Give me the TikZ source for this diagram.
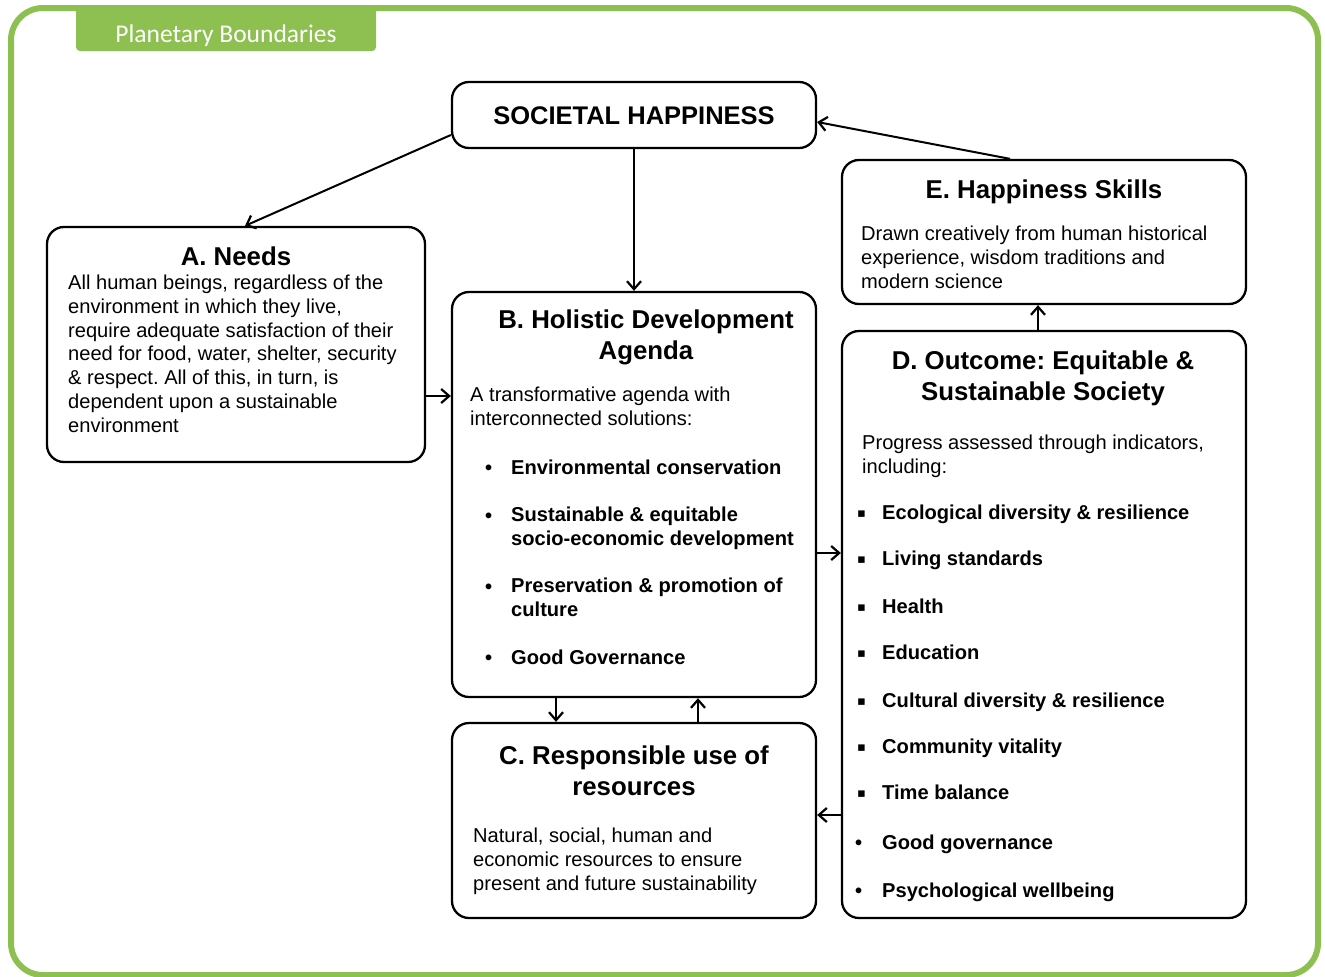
\documentclass[tikz,border=0pt]{standalone}
\usepackage{fontspec}
\setmainfont{Liberation Sans}
\newfontfamily\calfont{Carlito}
\newfontfamily\dvfont{DejaVu Sans}
\usetikzlibrary{arrows.meta,calc}
\definecolor{pbgreen}{RGB}{141,192,80}
\frenchspacing
\tikzset{
  box/.style={draw=black,line width=2.3pt,rounded corners=17pt,inner sep=0pt},
  ttl/.style={font=\fontsize{25.8}{30.5}\selectfont\bfseries,align=center,anchor=base,inner sep=0pt},
  body/.style={font=\fontsize{20.1}{23.7}\selectfont,align=left,anchor=base west,inner sep=0pt},
  bul/.style={font=\fontsize{20.1}{23.3}\selectfont\bfseries,align=left,anchor=base west,inner sep=0pt},
  arr/.style={line width=2pt,-{Straight Barb[length=8pt,width=14pt,line width=2.2pt]}},
}
% #1 name, #2 bullet x, #3 text x, #4 first baseline, #5 last baseline, #6 text
\newcommand{\rbul}[6]{\node[bul] (#1) at (#2,#4) {•};\node[bul] (#1t) at (#3,#5) {#6};}
\newcommand{\sbul}[4]{\node[bul,font=\fontsize{13}{16}\dvfont] (#1) at (#2,#3-2) {▪};\node[bul] (#1t) at (882,#3) {#4};}
\begin{document}
\frenchspacing
\begin{tikzpicture}[x=1pt,y=-1pt]
\useasboundingbox (0,0) rectangle (1325,977);
% outer frame
\draw[pbgreen,line width=6pt,rounded corners=32pt] (11,8) rectangle (1318,975);
\fill[pbgreen,rounded corners=4pt] (76,6) -- (76,51) -- (376,51) -- (376,6) -- cycle;
\node[font=\fontsize{25.5}{30}\calfont,text=white,inner sep=0pt,anchor=base] (pb) at (226,42) {Planetary Boundaries};
% boxes
\node[box,minimum width=364pt,minimum height=66pt] (sh) at (634,115) {};
\node[font=\fontsize{25.5}{30}\selectfont\bfseries,anchor=base,inner sep=0pt] (sht) at (634,124) {SOCIETAL HAPPINESS};
\node[box,minimum width=378pt,minimum height=235pt] (a) at (236,344.5) {};
\node[box,minimum width=364pt,minimum height=405pt] (b) at (634,494.5) {};
\node[box,minimum width=364pt,minimum height=195pt] (c) at (634,820.5) {};
\node[box,minimum width=404pt,minimum height=587pt] (d) at (1044,624.5) {};
\node[box,minimum width=404pt,minimum height=144pt] (e) at (1044,232) {};
% A
\node[ttl] (at) at (236,265) {A. Needs};
\node[body] (ab) at (68,432) {All human beings, regardless of the\\environment in which they live,\\require adequate satisfaction of their\\need for food, water, shelter, security\\\& respect. All of this, in turn, is\\dependent upon a sustainable\\environment};
% B
\node[ttl] (bt) at (646,359) {B. Holistic Development\\Agenda};
\node[body] (bb) at (470,425) {A transformative agenda with\\interconnected solutions:};
\rbul{b1}{485}{511}{474}{474}{Environmental conservation}
\rbul{b2}{485}{511}{522}{545}{Sustainable \& equitable\\socio-economic development}
\rbul{b3}{485}{511}{593}{616}{Preservation \& promotion of\\culture}
\rbul{b4}{485}{511}{664}{664}{Good Governance}
% C
\node[ttl] (ct) at (634,795) {C. Responsible use of\\resources};
\node[body] (cb) at (473,890) {Natural, social, human and\\economic resources to ensure\\present and future sustainability};
% D
\node[ttl] (dt) at (1043,400) {D. Outcome: Equitable \&\\Sustainable Society};
\node[body] (db) at (862,473) {Progress assessed through indicators,\\including:};
\sbul{d1}{857}{519}{Ecological diversity \& resilience}
\sbul{d2}{857}{565}{Living standards}
\sbul{d3}{857}{613}{Health}
\sbul{d4}{857}{659}{Education}
\sbul{d5}{857}{707}{Cultural diversity \& resilience}
\sbul{d6}{857}{753}{Community vitality}
\sbul{d7}{857}{799}{Time balance}
\rbul{d8}{855}{882}{849}{849}{Good governance}
\rbul{d9}{855}{882}{897}{897}{Psychological wellbeing}
% E
\node[ttl] (et) at (1044,198) {E. Happiness Skills};
\node[body] (eb) at (861,288) {Drawn creatively from human historical\\experience, wisdom traditions and\\modern science};
% connectors
\draw[arr] ($(sh.west)+(0,20)$) -- ($(a.north)+(9,0)$);
\draw[arr] (sh.south) -- (b.north);
\draw[arr] ($(e.north)+(-34,0)$) -- ($(sh.east)+(0,7)$);
\draw[arr] (a.east |- 0,396) -- (b.west |- 0,396);
\draw[arr] (b.south -| 556,0) -- (c.north -| 556,0);
\draw[arr] (c.north -| 698,0) -- (b.south -| 698,0);
\draw[arr] (b.east |- 0,553) -- (d.west |- 0,553);
\draw[arr] (d.west |- 0,815) -- (c.east |- 0,815);
\draw[arr] (d.north -| 1038,0) -- (e.south -| 1038,0);
\end{tikzpicture}
\end{document}
